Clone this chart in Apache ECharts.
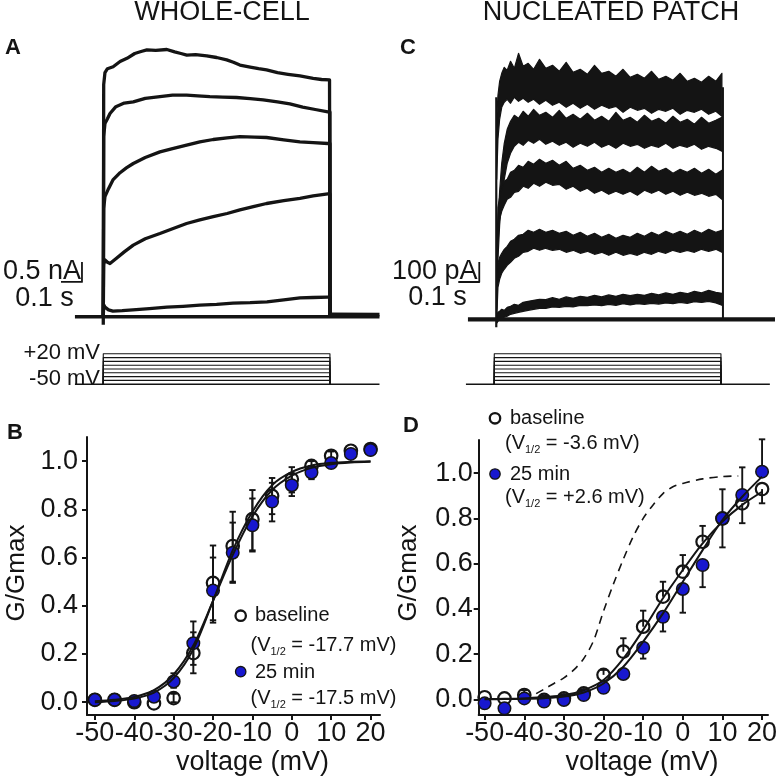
<!DOCTYPE html>
<html><head><meta charset="utf-8">
<script src="https://cdn.jsdelivr.net/npm/echarts@6.0.0/dist/echarts.min.js"></script>
<style>html,body{margin:0;padding:0;background:#fff}#c{width:777px;height:780px}</style>
</head><body><div id="c"></div>
<script>
// ================= DATA =================
// Panel A: whole-cell currents, [time ms, current nA]
var traceA1 = [[0,-0.2],[2,5.8],[8,6.1],[20,6.2],[47,6.25],[80,6.38],[113,6.46],[150,6.58],[180,6.63],[208,6.67],[250,6.66],[303,6.68],[340,6.62],[370,6.58],[398,6.54],[440,6.55],[493,6.52],[540,6.48],[588,6.42],[620,6.36],[651,6.29],[700,6.24],[740,6.2],[778,6.17],[830,6.1],[880,6.06],[937,6.02],[1000,5.96],[1040,5.93],[1078,5.92],[1080,5.92],[1080,0]];
var traceA2 = [[0,0],[2,4.5],[8,4.83],[20,4.95],[32,5.08],[60,5.25],[100,5.34],[143,5.37],[200,5.46],[270,5.5],[330,5.54],[397,5.54],[450,5.52],[508,5.5],[570,5.49],[635,5.48],[700,5.45],[762,5.42],[830,5.37],[889,5.32],[950,5.24],[1010,5.18],[1070,5.12],[1080,5.12],[1080,0]];
var traceA3 = [[0,0],[2,2.7],[8,3.0],[25,3.2],[46,3.42],[80,3.6],[110,3.72],[143,3.83],[200,3.98],[270,4.12],[330,4.2],[397,4.29],[460,4.37],[524,4.43],[590,4.47],[651,4.5],[720,4.49],[778,4.48],[860,4.42],[937,4.37],[1000,4.35],[1070,4.33],[1080,4.33],[1080,0]];
var traceA4 = [[0,0],[2,1.3],[8,1.42],[20,1.36],[32,1.33],[60,1.45],[100,1.62],[143,1.79],[200,1.95],[270,2.08],[330,2.2],[397,2.33],[460,2.42],[524,2.5],[590,2.58],[651,2.67],[720,2.76],[778,2.83],[860,2.9],[937,2.96],[1000,3.02],[1070,3.07],[1080,3.07],[1080,0]];
var traceA5 = [[0,0],[2,0.3],[8,0.24],[25,0.17],[46,0.14],[90,0.15],[141,0.17],[220,0.2],[303,0.24],[380,0.26],[460,0.29],[540,0.31],[618,0.34],[700,0.35],[780,0.37],[860,0.42],[937,0.47],[1000,0.48],[1070,0.49],[1080,0.49],[1080,0]];
var baselineA = [[-135,0],[1316,0]];
var tailA = [[1082,0.06],[1316,0.05]];
var scaleBarA = {t: -101.5, i: 0.87, dt: 100, di: 0.5};   // 0.1 s, 0.5 nA

// Panel C: nucleated patch currents (noisy band edges), time ms, current pA
var tC = [2,8,16,26,38,52,68,86,106,128,152,178,206,236,268,300,333,366,400,434,468,502,536,570,604,638,672,706,740,774,808,842,876,910,944,978,1012,1046,1075];
var c1Up = [1000,1120,1190,1230,1260,1245,1290,1255,1330,1265,1280,1250,1300,1255,1270,1240,1285,1235,1250,1225,1270,1230,1240,1215,1250,1210,1225,1205,1240,1200,1215,1195,1230,1190,1205,1185,1215,1190,1230];
var c1Lo = [700,900,1000,1060,1085,1100,1080,1110,1090,1105,1085,1100,1075,1095,1070,1085,1060,1080,1055,1075,1050,1070,1055,1065,1035,1060,1045,1055,1030,1050,1040,1055,1025,1045,1035,1050,1025,1040,1015];
var c2Up = [300,480,640,780,880,950,990,1020,1005,1040,1015,1050,1020,1035,1010,1045,1005,1025,1000,1030,995,1015,990,1035,995,1010,985,1020,990,1005,980,1015,985,1000,975,1010,980,995,1010];
var c2Lo = [100,300,470,600,700,780,830,865,885,870,895,880,900,875,890,870,885,860,880,865,885,860,875,855,880,865,875,855,870,860,880,855,870,860,875,850,865,855,840];
var c3Up = [250,560,610,650,690,700,735,745,770,760,790,775,800,780,795,770,790,755,770,745,760,735,755,735,750,730,760,735,765,740,755,730,750,735,755,730,750,725,745];
var c3Lo = [50,420,500,540,570,600,610,635,640,665,655,680,665,685,670,675,650,665,640,655,630,645,625,640,625,640,620,645,630,645,625,640,620,635,620,630,615,625,600];
var c4Up = [100,280,310,330,350,365,390,400,420,425,445,435,450,435,445,430,440,420,435,415,430,410,425,405,420,410,430,415,435,420,440,425,440,425,445,430,450,435,445];
var c4Lo = [0,160,200,230,250,270,285,305,315,335,340,355,345,355,345,350,335,345,330,340,325,335,320,335,320,330,320,335,325,340,330,345,335,345,335,350,340,350,335];
var c5Up = [20,35,40,50,45,60,65,75,70,85,90,95,100,98,108,100,112,105,115,110,120,112,122,115,125,118,125,120,130,122,132,125,135,128,140,132,145,135,130];
var c5Lo = [-20,-10,0,5,10,15,25,30,35,40,45,50,55,55,62,60,65,62,70,68,72,68,75,70,78,72,78,75,80,76,82,78,85,80,88,84,90,82,70];
var baselineC = [[-135,0],[1328,0]];
var onsetC = [[0,-40],[0,1110]];
var offsetC = [[1080,1160],[1080,0]];
var scaleBarC = {t: -81, i: 186.5, dt: 100, di: 100};     // 0.1 s, 100 pA

// Voltage protocol (mV)
var stepVolts = [-50,-40,-30,-20,-10,0,10,20];
var holdV = -60;
var stepTimes = [0,1080];
var holdRangeA = [-135,1316];
var holdRangeC = [-135,1313];

// Panels B & D: G/Gmax vs voltage
var volts = [-50,-45,-40,-35,-30,-25,-20,-15,-10,-5,0,5,10,15,20];
var bBase = [0.01,0.01,0.0,-0.005,0.017,0.204,0.495,0.648,0.759,0.856,0.925,0.98,1.022,1.043,1.05];
var b25   = [0.01,0.01,0.005,0.023,0.086,0.245,0.463,0.62,0.734,0.832,0.9,0.953,0.992,1.03,1.046];
var bBaseErr = [null,null,null,null,[0.0,0.035],[0.12,0.29],[0.34,0.65],[0.50,0.79],[0.63,0.88],[0.78,0.93],[0.87,0.975],[0.94,1.0],[1.0,1.04],null,null];
var b25Err   = [null,null,null,null,[0.06,0.12],[0.155,0.335],[0.33,0.6],[0.495,0.745],[0.625,0.845],[0.75,0.91],[0.855,0.945],[0.925,0.98],null,null,null];
var dBase = [0.009,0.004,0.019,-0.003,0.004,0.026,0.108,0.211,0.321,0.454,0.565,0.697,0.8,0.867,0.93];
var d25   = [-0.018,-0.04,0.004,-0.01,-0.003,0.019,0.051,0.112,0.228,0.365,0.488,0.594,0.8,0.904,1.007];
var dBaseErr = [null,null,[-0.01,0.04],null,null,null,[0.108,0.13],[0.211,0.27],[0.321,0.392],[0.454,0.52],[0.565,0.638],[0.697,0.767],[0.8,0.929],[0.779,0.867],[0.867,0.93]];
var d25Err   = [null,null,null,null,null,[0.005,0.019],[0.03,0.051],[0.09,0.112],[0.18,0.228],[0.30,0.365],[0.383,0.488],[0.496,0.594],[0.672,0.8],[0.904,1.026],[1.007,1.15]];
var fitV = [-50,-45,-40,-35,-30,-25,-20,-15,-10,-5,0,5,10,15,20];
var fitBBase = [0.0,0.005,0.015,0.04,0.10,0.22,0.42,0.63,0.79,0.90,0.955,0.982,0.993,0.997,0.999];
var fitB25   = [0.004,0.01,0.022,0.05,0.115,0.235,0.42,0.61,0.77,0.88,0.94,0.972,0.987,0.994,0.997];
var fitDBase = [0.001,0.002,0.004,0.01,0.018,0.04,0.085,0.18,0.307,0.447,0.572,0.69,0.786,0.86,0.918];
var fitD25   = [0.0,0.001,0.002,0.005,0.012,0.03,0.07,0.144,0.255,0.38,0.52,0.66,0.793,0.896,0.985];
var dashV = [-37,-35,-32.5,-30,-27.5,-25,-22.5,-20,-17.5,-15,-12.5,-10,-7.5,-5,-2.5,0,5,10,14];
var dashG = [0.025,0.045,0.07,0.095,0.13,0.18,0.26,0.39,0.51,0.62,0.72,0.8,0.86,0.91,0.94,0.955,0.975,0.985,0.988];
var xTicks = [-50,-40,-30,-20,-10,0,10,20];
var yTicks = [0,0.2,0.4,0.6,0.8,1.0];

// ================= CHART =================
var FONT = "'Liberation Sans', Arial, Helvetica, sans-serif";
var INK = '#141414';
var BLUE = '#1818cf';
var chart = echarts.init(document.getElementById('c'), null, {renderer:'canvas', width:777, height:780});

function zip(xs, ys){ return xs.map(function(x,i){ return [x, ys[i]]; }); }
function hiddenX(min,max,g){ return {type:'value', gridIndex:g, min:min, max:max, show:false}; }
function hiddenY(min,max,g){ return {type:'value', gridIndex:g, min:min, max:max, show:false}; }
function lineS(data, g, w, extra){
  var s = {type:'line', xAxisIndex:g, yAxisIndex:g, data:data, showSymbol:false, symbol:'none', silent:true,
    lineStyle:{color:INK, width:w, join:'round', opacity:1}, z:3, animation:false};
  if (extra) for (var k in extra) s[k] = extra[k];
  return s;
}
function bandS(g, ts, up, lo){
  return {type:'custom', xAxisIndex:g, yAxisIndex:g, silent:true, z:3, data:[[ts[0], up[0]]], encode:{x:0,y:1},
    renderItem:function(params, api){
      var pts = [];
      for (var i=0;i<ts.length;i++) pts.push(api.coord([ts[i], up[i]]));
      for (var j=ts.length-1;j>=0;j--) pts.push(api.coord([ts[j], lo[j]]));
      return {type:'polygon', shape:{points:pts}, style:{fill:INK, stroke:INK, lineWidth:1.2, lineJoin:'round'}};
    }};
}
function scaleS(g, sb){
  return lineS([[sb.t - sb.dt, sb.i],[sb.t, sb.i],[sb.t, sb.i + sb.di]], g, 1.8);
}
function protocolSeries(g, hold){
  var out = [lineS([[hold[0], holdV],[hold[1], holdV]], g, 1.6)];
  stepVolts.forEach(function(v){
    out.push(lineS([[stepTimes[0], holdV],[stepTimes[0], v],[stepTimes[1], v],[stepTimes[1], holdV]], g, 1.1));
  });
  return out;
}
function errData(vs, ys, errs){
  var d = [];
  errs.forEach(function(e,i){ if (e) d.push([vs[i], e[0], e[1], ys[i]]); });
  return d;
}
function errS(g, data){
  return {type:'custom', xAxisIndex:g, yAxisIndex:g, silent:true, z:2, data:data, encode:{x:0, y:[1,2]},
    renderItem:function(params, api){
      var x = api.value(0), lo = api.value(1), hi = api.value(2), y = api.value(3);
      var p1 = api.coord([x, lo]), p2 = api.coord([x, hi]);
      var st = {stroke:INK, lineWidth:1.9};
      var ch = [{type:'line', shape:{x1:p1[0],y1:p1[1],x2:p2[0],y2:p2[1]}, style:st}];
      if (Math.abs(lo - y) > 0.01) ch.push({type:'line', shape:{x1:p1[0]-3.2,y1:p1[1],x2:p1[0]+3.2,y2:p1[1]}, style:st});
      if (Math.abs(hi - y) > 0.01) ch.push({type:'line', shape:{x1:p2[0]-3.2,y1:p2[1],x2:p2[0]+3.2,y2:p2[1]}, style:st});
      return {type:'group', children:ch};
    }};
}
function scatterS(g, data, open){
  return {type:'scatter', xAxisIndex:g, yAxisIndex:g, data:data, symbol:'circle', symbolSize:12.5, silent:true,
    z: open ? 4 : 5,
    itemStyle: open ? {color:'rgba(255,255,255,0)', borderColor:INK, borderWidth:2.2, opacity:1}
                    : {color:BLUE, borderColor:INK, borderWidth:1.5, opacity:1}};
}
function gvAxisX(g, min, max){
  return {type:'value', gridIndex:g, min:min, max:max, position:'bottom',
    axisLine:{show:true, onZero:false, lineStyle:{color:INK, width:2}},
    axisTick:{show:true, customValues:xTicks, length:5, lineStyle:{color:INK, width:2}},
    axisLabel:{show:true, customValues:xTicks, fontSize:27, fontFamily:FONT, color:INK, margin:5,
      formatter:function(v){ return String(Math.round(v)); }},
    splitLine:{show:false}};
}
function gvAxisY(g, min, max, margin){
  return {type:'value', gridIndex:g, min:min, max:max, position:'left',
    axisLine:{show:true, onZero:false, lineStyle:{color:INK, width:2}},
    axisTick:{show:true, customValues:yTicks, length:5, lineStyle:{color:INK, width:2}},
    axisLabel:{show:true, customValues:yTicks, fontSize:27, fontFamily:FONT, color:INK, margin:margin,
      formatter:function(v){ return v.toFixed(1); }},
    splitLine:{show:false}};
}

var grids = [
  {left:55, top:36.7, width:331.2, height:300},   // 0 A currents
  {left:448, top:39.3, width:331.2, height:300},  // 1 C currents
  {left:55, top:350, width:331.2, height:38},     // 2 A protocol
  {left:446, top:350, width:331.2, height:38},    // 3 C protocol
  {left:87, top:437, width:293, height:278},      // 4 B
  {left:478.7, top:440, width:289.3, height:275}  // 5 D
].map(function(g){ g.outerBoundsMode = 'none'; g.containLabel = false; return g; });

var xAxes = [hiddenX(-230,1348,0), hiddenX(-230,1348,1), hiddenX(-230,1348,2), hiddenX(-230,1348,3),
  gvAxisX(4,-52,22.4), gvAxisX(5,-51.5,21.5)];
var yAxes = [hiddenY(-0.5,7.0,0), hiddenY(-100,1400,1), hiddenY(-70,30,2), hiddenY(-70,30,3),
  gvAxisY(4,-0.053,1.1,9), gvAxisY(5,-0.0695,1.147,6)];

var series = [];
// A
[traceA1,traceA2,traceA3,traceA4,traceA5].forEach(function(t){ series.push(lineS(t,0,3.3)); });
series.push(lineS(baselineA,0,3.4));
series.push(lineS(tailA,0,3.8));
series.push(scaleS(0, scaleBarA));
// C
series.push(lineS(baselineC,1,4.2));
series.push(lineS(onsetC,1,2.2));
series.push(lineS(offsetC,1,2));
series.push(bandS(1,tC,c1Up,c1Lo));
series.push(bandS(1,tC,c2Up,c2Lo));
series.push(bandS(1,tC,c3Up,c3Lo));
series.push(bandS(1,tC,c4Up,c4Lo));
series.push(bandS(1,tC,c5Up,c5Lo));
series.push(scaleS(1, scaleBarC));
// protocols
series = series.concat(protocolSeries(2, holdRangeA), protocolSeries(3, holdRangeC));
// B
series.push(errS(4, errData(volts, bBase, bBaseErr)));
series.push(errS(4, errData(volts, b25, b25Err)));
series.push(scatterS(4, zip(volts,bBase), true));
series.push(scatterS(4, zip(volts,b25), false));
series.push(lineS(zip(fitV,fitBBase),4,2,{smooth:0.3, z:6}));
series.push(lineS(zip(fitV,fitB25),4,2,{smooth:0.3, z:6}));
// D
series.push(errS(5, errData(volts, dBase, dBaseErr)));
series.push(errS(5, errData(volts, d25, d25Err)));
series.push(scatterS(5, zip(volts,dBase), true));
series.push(scatterS(5, zip(volts,d25), false));
series.push(lineS(zip(fitV,fitDBase),5,2,{smooth:0.3, z:6}));
series.push(lineS(zip(fitV,fitD25),5,2,{smooth:0.3, z:6}));
series.push(lineS(zip(dashV,dashG),5,1.6,{smooth:0.3, z:6, lineStyle:{color:INK, width:1.6, type:[8,6]}}));

function txt(x, y, s, size, align, weight, rot){
  var el = {type:'text', x:x, y:y, silent:true, z:10,
    style:{text:s, fontSize:size, fontFamily:FONT, fontWeight:weight||'normal', fill:INK,
      align:align, textAlign:align, verticalAlign:'middle', textVerticalAlign:'middle'}};
  if (rot) el.rotation = rot;
  return el;
}
function vhalf(x, y, s){
  return {type:'text', x:x, y:y, silent:true, z:10,
    style:{text:s, align:'left', textAlign:'left', verticalAlign:'middle', textVerticalAlign:'middle',
      fontSize:20, fontFamily:FONT, fill:INK,
      rich:{m:{fontSize:20, fontFamily:FONT, lineHeight:24, fill:INK},
            s:{fontSize:11, fontFamily:FONT, lineHeight:14, verticalAlign:'bottom', fill:INK}}}};
}
function circ(cx, cy, filled){
  return {type:'circle', silent:true, z:10, shape:{cx:cx, cy:cy, r:5.2},
    style: filled ? {fill:BLUE, stroke:INK, lineWidth:1.3} : {fill:'#fff', stroke:INK, lineWidth:2.3}};
}

var graphics = [
  txt(222, 13, 'WHOLE-CELL', 27, 'center'),
  txt(611, 13, 'NUCLEATED PATCH', 27, 'center'),
  txt(5, 48, 'A', 22, 'left', 'bold'),
  txt(400, 48, 'C', 22, 'left', 'bold'),
  txt(7, 433, 'B', 22, 'left', 'bold'),
  txt(403, 426, 'D', 22, 'left', 'bold'),
  txt(81, 271.5, '0.5 nA', 27, 'right'),
  txt(44.5, 298.5, '0.1 s', 27, 'center'),
  txt(477.5, 271.5, '100 pA', 27, 'right'),
  txt(437.5, 298, '0.1 s', 27, 'center'),
  txt(100, 353, '+20 mV', 22, 'right'),
  txt(100, 379, '-50 mV', 22, 'right'),
  txt(17, 573, 'G/Gmax', 26, 'center', 'normal', Math.PI/2),
  txt(409, 573, 'G/Gmax', 26, 'center', 'normal', Math.PI/2),
  txt(252.5, 763, 'voltage (mV)', 27, 'center'),
  txt(642, 763, 'voltage (mV)', 27, 'center'),
  // legend B
  circ(240.7, 615.7, false), txt(255, 615.5, 'baseline', 20, 'left'),
  vhalf(250.5, 645, '{m|(V}{s|1/2}{m| = -17.7 mV)}'),
  circ(240.7, 671.7, true), txt(255, 672, '25 min', 20, 'left'),
  vhalf(250.5, 698, '{m|(V}{s|1/2}{m| = -17.5 mV)}'),
  // legend D
  circ(495, 418.3, false), txt(510, 418, 'baseline', 20, 'left'),
  vhalf(505, 443.5, '{m|(V}{s|1/2}{m| = -3.6 mV)}'),
  circ(495, 474, true), txt(510, 474, '25 min', 20, 'left'),
  vhalf(505, 497, '{m|(V}{s|1/2}{m| = +2.6 mV)}')
];

chart.setOption({
  animation:false,
  backgroundColor:'#ffffff',
  grid:grids, xAxis:xAxes, yAxis:yAxes, series:series, graphic:graphics
});
</script>
</body></html>
